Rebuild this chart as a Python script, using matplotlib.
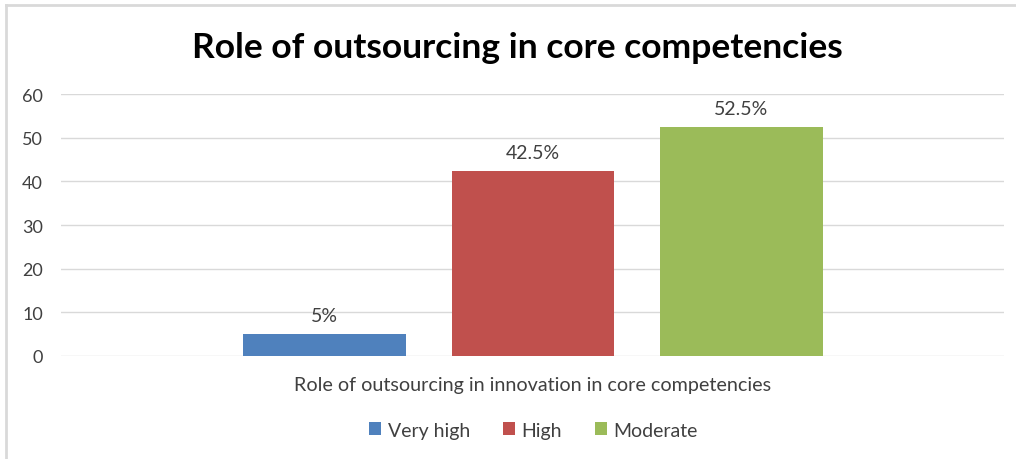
import matplotlib
matplotlib.use("Agg")
import matplotlib.pyplot as plt
from matplotlib.lines import Line2D

plt.rcParams['font.family'] = ['Lato', 'DejaVu Sans']

title = "Role of outsourcing in core competencies"
category = "Role of outsourcing in innovation in core competencies"
series = ["Very high", "High", "Moderate"]
values = [5, 42.5, 52.5]
labels = ["5%", "42.5%", "52.5%"]
colors = ["#4f81bd", "#c0504d", "#9bbb59"]
yticks = [0, 10, 20, 30, 40, 50, 60]

fig = plt.figure(figsize=(10.16, 4.60), dpi=100)
ax = fig.add_axes([0.060, 0.224, 0.928, 0.569])

# chart frame: only the top and left edges fall inside the image
fig.add_artist(Line2D([0.006, 1.0], [0.987, 0.987], transform=fig.transFigure,
                      color="#d9d9d9", linewidth=2))
fig.add_artist(Line2D([0.006, 0.006], [0.0, 0.987], transform=fig.transFigure,
                      color="#d9d9d9", linewidth=2))

xs = range(len(values))
bars = []
for x, v, c, s, lab in zip(xs, values, colors, series, labels):
    b = ax.bar(x, v, width=0.78, color=c, label=s, zorder=3)
    bars.append(b)
    ax.annotate(lab, (x, v), xytext=(0, 7), textcoords="offset points",
                ha="center", va="bottom", fontsize=14, color="#404040")

ax.set_xlim(-1.264, 3.259)
ax.set_ylim(0, 60)
ax.set_yticks(yticks)
ax.set_xticks([])
ax.grid(axis="y", color="#d9d9d9", linewidth=1, zorder=0)
for sp in ax.spines.values():
    sp.set_visible(False)
ax.tick_params(axis="y", length=0, pad=13, labelsize=13, labelcolor="#404040")

fig.text(0.509, 0.895, title, ha="center", va="center", fontsize=25.5,
         fontweight="bold", color="black")
fig.text(0.524, 0.161, category, ha="center", va="center", fontsize=14.2,
         color="#404040")

fig.legend(handles=[b[0] for b in bars], labels=series, loc="center",
           bbox_to_anchor=(0.525, 0.063), ncol=3, frameon=False, fontsize=14,
           handlelength=0.6, handleheight=0.6, handletextpad=0.35,
           columnspacing=1.7, labelcolor="#404040")

fig.savefig("out.png", dpi=100)
